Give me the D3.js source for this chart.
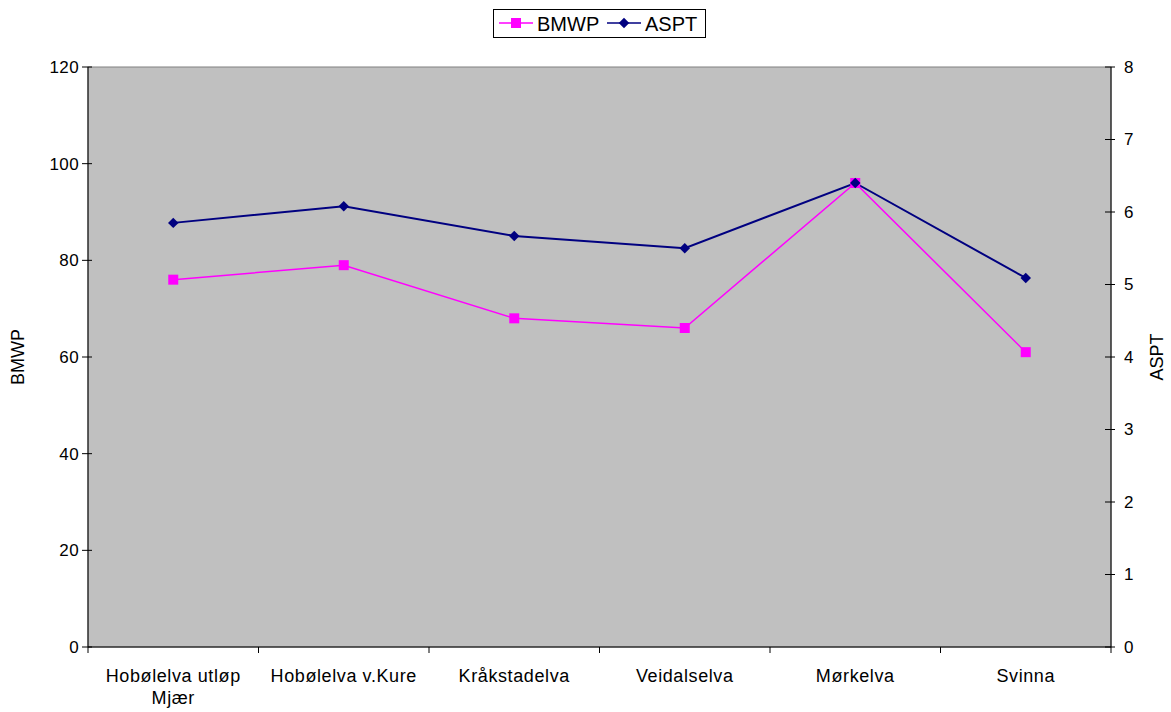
<!DOCTYPE html>
<html>
<head>
<meta charset="utf-8">
<script src="https://cdn.jsdelivr.net/npm/d3@7"></script>
<style>
  body { margin: 0; background: #fff; }
  text { font-family: "Liberation Sans", Arial, sans-serif; }
</style>
</head>
<body>
<div id="main"></div>
<script>
var categories = ["Hobølelva utløp Mjær", "Hobølelva v.Kure", "Kråkstadelva", "Veidalselva", "Mørkelva", "Svinna"];
var bmwp = [76, 79, 68, 66, 96, 61];
var aspt = [5.85, 6.08, 5.67, 5.5, 6.4, 5.09];
var leftTicks = [0, 20, 40, 60, 80, 100, 120];
var rightTicks = [0, 1, 2, 3, 4, 5, 6, 7, 8];

var W = 1171, H = 712;
var m = {left: 88, right: 1111, top: 67, bottom: 647};

var svg = d3.select("#main").append("svg")
  .attr("width", W)
  .attr("height", H);

var x = d3.scaleBand().domain(categories).range([m.left, m.right]);
var yL = d3.scaleLinear().domain([0, 120]).range([m.bottom, m.top]);
var yR = d3.scaleLinear().domain([0, 8]).range([m.bottom, m.top]);

svg.append("rect")
  .attr("x", m.left).attr("y", m.top)
  .attr("width", m.right - m.left).attr("height", m.bottom - m.top)
  .attr("fill", "#c0c0c0")
  .attr("stroke", "#808080");//plot area

// left axis
var gl = svg.append("g").attr("transform", "translate(" + m.left + ",0)");
gl.append("line").attr("y1", m.top).attr("y2", m.bottom).attr("stroke", "#000");
gl.selectAll(".t").data(leftTicks).enter().append("line")
  .attr("x1", -6).attr("x2", 4)
  .attr("y1", function(d) { return yL(d); }).attr("y2", function(d) { return yL(d); })
  .attr("stroke", "#000");
gl.selectAll(".lab").data(leftTicks).enter().append("text")
  .attr("x", -9).attr("y", function(d) { return yL(d); })
  .attr("dy", "0.35em").attr("text-anchor", "end")
  .style("font-size", "17px")
  .style("letter-spacing", "0.4px")
  .text(function(d) { return d; });

// right axis
var gr = svg.append("g").attr("transform", "translate(" + m.right + ",0)");
gr.append("line").attr("y1", m.top).attr("y2", m.bottom).attr("stroke", "#000");
gr.selectAll(".t").data(rightTicks).enter().append("line")
  .attr("x1", -6).attr("x2", 4)
  .attr("y1", function(d) { return yR(d); }).attr("y2", function(d) { return yR(d); })
  .attr("stroke", "#000");
gr.selectAll(".lab").data(rightTicks).enter().append("text")
  .attr("x", 13).attr("y", function(d) { return yR(d); })
  .attr("dy", "0.35em").attr("text-anchor", "start")
  .style("font-size", "17px")
  .text(function(d) { return d; });

// x axis
var gx = svg.append("g").attr("transform", "translate(0," + m.bottom + ")");
gx.append("line").attr("x1", m.left).attr("x2", m.right).attr("stroke", "#000");
var bounds = d3.range(categories.length + 1).map(function(i) { return m.left + i * x.step(); });
gx.selectAll(".t").data(bounds).enter().append("line")
  .attr("x1", function(d) { return d; }).attr("x2", function(d) { return d; })
  .attr("y1", 0).attr("y2", 6)
  .attr("stroke", "#000");
var xl = gx.selectAll(".lab").data(categories).enter().append("text")
  .attr("x", function(d) { return x(d) + x.bandwidth() / 2; })
  .attr("y", 35)
  .attr("text-anchor", "middle")
  .style("font-size", "18px")
  .style("letter-spacing", "0.6px");
xl.each(function(d) {
  var t = d3.select(this);
  var parts = d === "Hobølelva utløp Mjær" ? ["Hobølelva utløp", "Mjær"] : [d];
  parts.forEach(function(p, i) {
    t.append("tspan").attr("x", x(d) + x.bandwidth() / 2).attr("dy", i ? 22 : 0).text(p);
  });
});

// axis titles
svg.append("text")
  .attr("transform", "translate(24," + ((m.top + m.bottom) / 2) + ") rotate(-90)")
  .attr("text-anchor", "middle")
  .style("font-size", "18px")
  .text("BMWP");
svg.append("text")
  .attr("transform", "translate(1163," + ((m.top + m.bottom) / 2) + ") rotate(-90)")
  .attr("text-anchor", "middle")
  .style("font-size", "18px")
  .text("ASPT");

// lines
var cx = function(d, i) { return x(categories[i]) + x.bandwidth() / 2; };
var lineL = d3.line().x(cx).y(function(d) { return yL(d); });
var lineR = d3.line().x(cx).y(function(d) { return yR(d); });

svg.append("path").datum(bmwp)
  .attr("d", lineL).attr("fill", "none")
  .attr("stroke", "#ff00ff").attr("stroke-width", 1.5);
svg.append("path").datum(aspt)
  .attr("d", lineR).attr("fill", "none")
  .attr("stroke", "#000080").attr("stroke-width", 2);

svg.selectAll(".sq").data(bmwp).enter().append("rect")
  .attr("x", function(d, i) { return cx(d, i) - 5; })
  .attr("y", function(d) { return yL(d) - 5; })
  .attr("width", 10).attr("height", 10)
  .attr("fill", "#ff00ff");
var diamond = d3.symbol().type(d3.symbolDiamond2).size(70);
svg.selectAll(".dm").data(aspt).enter().append("path")
  .attr("d", diamond)
  .attr("transform", function(d, i) { return "translate(" + cx(d, i) + "," + yR(d) + ")"; })
  .attr("fill", "#000080");

// legend
var lg = svg.append("g");
lg.append("rect")
  .attr("x", 493.5).attr("y", 9.5).attr("width", 212).attr("height", 28)
  .attr("fill", "#fff").attr("stroke", "#000");
lg.append("line").attr("x1", 499).attr("x2", 533).attr("y1", 23).attr("y2", 23)
  .attr("stroke", "#ff00ff").attr("stroke-width", 1.5);
lg.append("rect").attr("x", 511).attr("y", 18).attr("width", 10).attr("height", 10).attr("fill", "#ff00ff");
lg.append("text").attr("x", 537).attr("y", 24).attr("dy", "0.35em").style("font-size", "20px").text("BMWP");
lg.append("line").attr("x1", 607).attr("x2", 641).attr("y1", 23).attr("y2", 23)
  .attr("stroke", "#000080").attr("stroke-width", 1.5);
lg.append("path").attr("d", diamond).attr("transform", "translate(624,23)").attr("fill", "#000080");
lg.append("text").attr("x", 645).attr("y", 24).attr("dy", "0.35em").style("font-size", "20px").text("ASPT");
</script>
</body>
</html>
